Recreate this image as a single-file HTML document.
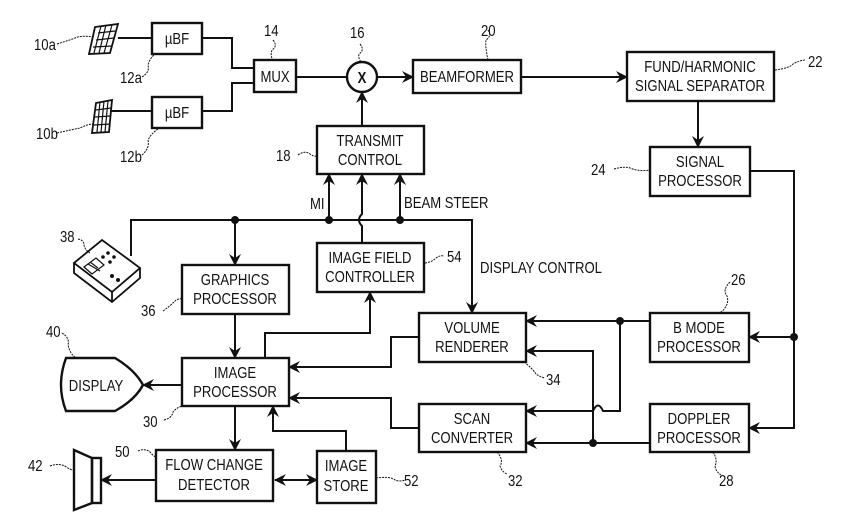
<!DOCTYPE html>
<html><head><meta charset="utf-8"><style>
body{margin:0;background:#fff}
svg text{font-family:"Liberation Sans",sans-serif;font-size:16px;fill:#111;transform-box:fill-box;transform:scaleX(0.82)}
g.c text{transform-origin:center}
g.l text{transform-origin:left}
</style></head><body>
<svg width="854" height="521" viewBox="0 0 854 521" xmlns="http://www.w3.org/2000/svg">
<defs>
<marker id="a" markerWidth="12" markerHeight="12" refX="11" refY="6" orient="auto" markerUnits="userSpaceOnUse"><path d="M0,0 L12,6 L0,12 L4,6 z" fill="#111"/></marker>
<marker id="s" markerWidth="12" markerHeight="12" refX="1" refY="6" orient="auto" markerUnits="userSpaceOnUse"><path d="M12,0 L0,6 L12,12 L8,6 z" fill="#111"/></marker>
</defs>
<g fill="none" stroke="#111" stroke-width="2.4">
<rect x="152" y="23" width="50" height="31"/>
<rect x="152" y="97" width="50" height="31"/>
<rect x="254" y="60" width="42" height="32"/>
<circle cx="362" cy="77" r="15"/>
<rect x="413" y="60" width="108" height="33"/>
<rect x="627" y="52" width="147" height="49"/>
<rect x="650" y="147" width="100" height="49"/>
<rect x="317" y="126" width="107" height="48"/>
<rect x="317" y="243" width="107" height="49"/>
<rect x="182" y="265" width="107" height="49"/>
<rect x="182" y="358" width="107" height="48"/>
<rect x="419" y="313" width="107" height="49"/>
<rect x="419" y="404" width="107" height="48"/>
<rect x="650" y="313" width="99" height="49"/>
<rect x="650" y="404" width="99" height="48"/>
<rect x="156" y="450" width="117" height="51"/>
<rect x="317" y="451" width="59" height="52"/>
<path d="M66,358 L115,358 Q135,370 143,385 Q135,400 115,411 L66,411 Q56,385 66,358 Z"/>
<path d="M74,450 L92,458 L92,503 L74,510 Z"/><rect x="92" y="458" width="9" height="45"/>
<path d="M95,27 L118,24 L110,53 L89,54 Z" stroke-width="1.8"/>
<path d="M96,103 L112,100 L109,132 L92,133 Z" stroke-width="1.8"/>
<path d="M74,263 L102,240 L140,268 L112,292 Z M74,263 L74,273 L112,302 L140,278 L140,268 M112,292 L112,302" stroke-width="1.8"/>
</g>
<g stroke="#111" stroke-width="1.2" fill="none">
<path d="M98,33 L115,31 M96,40 L114,38 M93,47 L112,46 M101,26 L94,53 M106,25 L99,53 M112,25 L104,53"/>
<path d="M96,110 L111,108 M95,117 L110,116 M94,125 L110,124 M100,102 L97,132 M104,101 L101,132 M108,101 L105,132"/>
<path d="M84,267 L96,258 L104,265 L92,274 Z M88,264 L100,271 M90,262 L98,268"/>
</g>
<g fill="#111"><circle cx="108" cy="253" r="1.8"/><circle cx="114" cy="257" r="1.8"/><circle cx="103" cy="257" r="1.8"/><circle cx="110" cy="262" r="1.8"/><circle cx="112" cy="276" r="2"/><circle cx="118" cy="280" r="2"/></g>
<g fill="none" stroke="#111" stroke-width="2">
<path d="M118,38 H152 M110,111 H152"/>
<path d="M202,38 H232 V68 H254 M202,111 H232 V83 H254"/>
<path d="M296,77 H347"/>
<path d="M377,77 H413" marker-end="url(#a)"/>
<path d="M521,77 H627" marker-end="url(#a)"/>
<path d="M698,101 V147" marker-end="url(#a)"/>
<path d="M362,126 V92" marker-end="url(#a)"/>
<path d="M750,171 H794 V428 H749" marker-end="url(#a)"/>
<path d="M794,337 H749" marker-end="url(#a)"/>
<path d="M650,321 H526" marker-end="url(#a)"/>
<path d="M620,321 V411 H603 Q598,400 593,411 H526" marker-end="url(#a)"/>
<path d="M650,443 H526" marker-end="url(#a)"/>
<path d="M593,443 V351 H526" marker-end="url(#a)"/>
<path d="M131,256 V220 H472 V313" marker-end="url(#a)"/>
<path d="M235,220 V265" marker-end="url(#a)"/>
<path d="M329,220 V174" marker-end="url(#a)"/>
<path d="M400,220 V174" marker-end="url(#a)"/>
<path d="M362,243 V226 Q356,220 362,214 V174" marker-end="url(#a)"/>
<path d="M235,314 V358" marker-end="url(#a)"/>
<path d="M265,358 V333 H370 V292" marker-end="url(#a)"/>
<path d="M419,337 H391 V367 H289" marker-end="url(#a)"/>
<path d="M419,428 H391 V398 H289" marker-end="url(#a)"/>
<path d="M182,385 H143" marker-end="url(#a)"/>
<path d="M235,406 V450" marker-end="url(#a)"/>
<path d="M346,451 V431 H273 V406" marker-end="url(#a)"/>
<path d="M275,480 H317" marker-start="url(#s)" marker-end="url(#a)"/>
<path d="M156,480 H101" marker-end="url(#a)"/>
</g>
<g fill="none" stroke="#111" stroke-width="1" stroke-dasharray="2,1">
<path d="M57,44 Q70,40 75,38 Q82,35 93,37"/>
<path d="M57,133 Q70,130 80,128 Q88,124 94,124"/>
<path d="M142,77 Q150,72 148,65 Q150,58 155,54"/>
<path d="M142,155 Q150,148 148,140 Q152,132 160,128"/>
<path d="M273,40 Q278,46 272,50 Q270,56 273,60"/>
<path d="M360,44 Q365,50 359,54 Q358,58 361,62"/>
<path d="M488,30 Q492,36 486,40 Q485,46 488,60"/>
<path d="M775,70 Q790,68 793,64 Q800,60 806,60"/>
<path d="M614,169 Q625,166 630,168 Q640,172 650,170"/>
<path d="M298,155 Q305,150 310,154 Q314,157 317,156"/>
<path d="M425,263 Q432,262 436,258 Q440,255 444,256"/>
<path d="M730,282 Q722,290 727,296 Q730,305 720,313"/>
<path d="M524,362 Q532,368 536,374 Q540,377 545,378"/>
<path d="M497,452 Q504,460 500,466 Q502,472 507,474"/>
<path d="M713,452 Q718,460 715,466 Q716,472 721,475"/>
<path d="M376,478 Q390,476 395,480 Q400,482 405,480"/>
<path d="M163,311 Q170,306 174,302 Q178,298 182,299"/>
<path d="M164,420 Q172,418 173,412 Q176,408 182,406"/>
<path d="M62,333 Q70,338 68,345 Q70,354 76,358"/>
<path d="M138,451 Q145,448 150,452 Q153,456 156,457"/>
<path d="M50,466 Q58,463 65,466 Q70,470 74,470"/>
<path d="M78,239 Q84,240 84,245 Q85,250 90,253"/>
</g>
<g fill="#111"><circle cx="235" cy="220" r="4"/><circle cx="329" cy="220" r="4"/><circle cx="400" cy="220" r="4"/><circle cx="620" cy="321" r="4"/><circle cx="593" cy="443" r="4"/><circle cx="794" cy="337" r="4"/></g>
<g class="c" text-anchor="middle">
<text x="177" y="44">µBF</text><text x="177" y="118">µBF</text>
<text x="275" y="82">MUX</text>
<text x="362" y="83" font-size="17" font-weight="bold">X</text>
<text x="467" y="82">BEAMFORMER</text>
<text x="700" y="72">FUND/HARMONIC</text><text x="700" y="91">SIGNAL SEPARATOR</text>
<text x="700" y="167">SIGNAL</text><text x="700" y="186">PROCESSOR</text>
<text x="370" y="146">TRANSMIT</text><text x="370" y="165">CONTROL</text>
<text x="370" y="263">IMAGE FIELD</text><text x="370" y="282">CONTROLLER</text>
<text x="235" y="285">GRAPHICS</text><text x="235" y="304">PROCESSOR</text>
<text x="235" y="378">IMAGE</text><text x="235" y="397">PROCESSOR</text>
<text x="472" y="333">VOLUME</text><text x="472" y="352">RENDERER</text>
<text x="472" y="424">SCAN</text><text x="472" y="443">CONVERTER</text>
<text x="699" y="333">B MODE</text><text x="699" y="352">PROCESSOR</text>
<text x="699" y="424">DOPPLER</text><text x="699" y="443">PROCESSOR</text>
<text x="214" y="470">FLOW CHANGE</text><text x="214" y="490">DETECTOR</text>
<text x="346" y="471">IMAGE</text><text x="346" y="491">STORE</text>
<text x="96" y="391">DISPLAY</text>
</g>
<g class="l">
<text x="310" y="209">MI</text>
<text x="404" y="208">BEAM STEER</text>
<text x="480" y="273">DISPLAY CONTROL</text>
<text x="34" y="50">10a</text><text x="36" y="139">10b</text>
<text x="120" y="83">12a</text><text x="120" y="162">12b</text>
<text x="264" y="36">14</text><text x="350" y="38">16</text><text x="481" y="36">20</text>
<text x="808" y="67">22</text><text x="591" y="175">24</text>
<text x="276" y="161">18</text><text x="447" y="262">54</text>
<text x="731" y="285">26</text><text x="546" y="385">34</text>
<text x="508" y="486">32</text><text x="719" y="486">28</text>
<text x="404" y="486">52</text><text x="60" y="242">38</text>
<text x="141" y="316">36</text><text x="143" y="427">30</text>
<text x="46" y="337">40</text><text x="115" y="457">50</text><text x="28" y="471">42</text>
</g>
</svg>
</body></html>
